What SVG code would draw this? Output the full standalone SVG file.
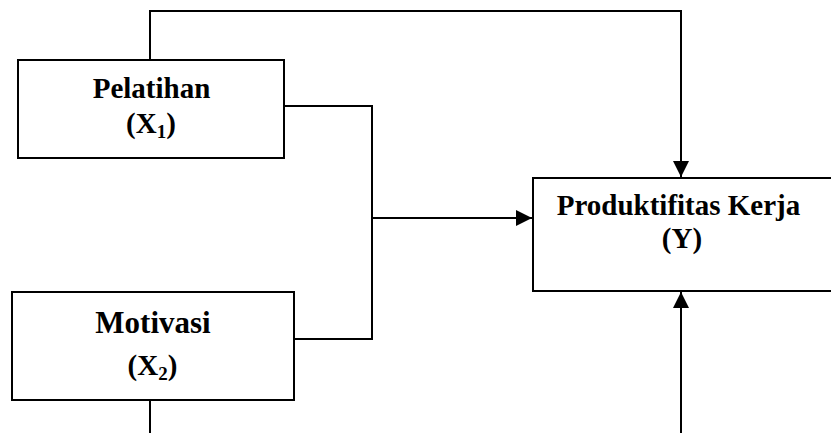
<svg xmlns="http://www.w3.org/2000/svg" width="831" height="433" viewBox="0 0 831 433">
<style>
.box{fill:#fff;stroke:#000;stroke-width:2}
.ln{fill:none;stroke:#000;stroke-width:2}
text{font-family:"Liberation Serif","Times New Roman",serif;font-weight:bold;fill:#000;text-anchor:middle}
</style>
<defs>
<marker id="ah" viewBox="0 0 16 16" refX="16" refY="8" markerWidth="16" markerHeight="16" markerUnits="userSpaceOnUse" orient="auto">
<path d="M0,0 L16,8 L0,16 Z" fill="#000"/>
</marker>
</defs>
<rect width="831" height="433" fill="#fff"/>
<g id="connectors">
<path class="ln" d="M150,60 V11 H681 V177" marker-end="url(#ah)"/>
<path class="ln" d="M284,106 H372 V339 H294"/>
<path class="ln" d="M372,218 H532" marker-end="url(#ah)"/>
<path class="ln" d="M150,400 V433"/>
<path class="ln" d="M681,433 V292" marker-end="url(#ah)"/>
</g>
<g id="pelatihan">
<rect class="box" x="18" y="60" width="266" height="98"/>
<text x="151.5" y="98" font-size="29">Pelatihan</text>
<text x="151" y="133" font-size="29">(X<tspan font-size="19" dy="5">1</tspan><tspan dy="-5">)</tspan></text>
</g>
<g id="motivasi">
<rect class="box" x="12" y="292" width="282" height="108"/>
<text x="153" y="333" font-size="31">Motivasi</text>
<text x="152.5" y="375" font-size="29">(X<tspan font-size="19" dy="5">2</tspan><tspan dy="-5">)</tspan></text>
</g>
<g id="produktifitas">
<rect class="box" x="533" y="178" width="310" height="113"/>
<text x="678.5" y="215" font-size="29">Produktifitas Kerja</text>
<text x="682" y="248" font-size="29">(Y)</text>
</g>
</svg>
